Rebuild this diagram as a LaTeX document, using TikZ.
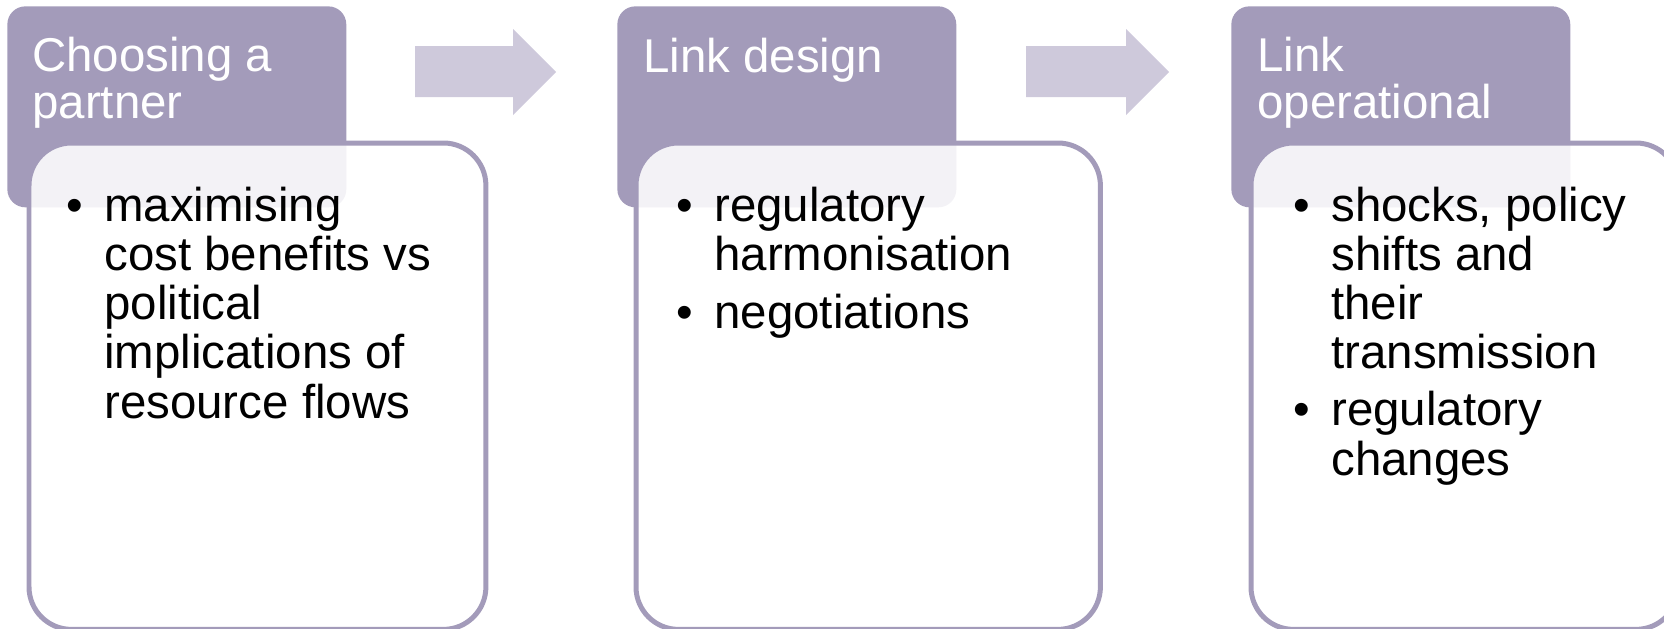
\documentclass[tikz,border=0pt]{standalone}
\usepackage{fontspec}
\setmainfont{Liberation Sans}
\usetikzlibrary{positioning}

\definecolor{lavender}{RGB}{163,155,186}
\definecolor{lavlight}{RGB}{206,201,219}

\newcommand{\bul}{\llap{\textbullet\hspace{0.43cm}}}

\begin{document}
\begin{tikzpicture}[x=0.02cm, y=-0.02cm,
    head/.style={fill=lavender, rounded corners=0.36cm, anchor=north west,
      inner sep=0pt, minimum width=6.78cm, minimum height=4.02cm},
    card/.style={draw=lavender, line width=0.1cm, fill=white, fill opacity=0.87,
      rounded corners=0.85cm, anchor=north west, inner sep=0pt, minimum height=9.73cm},
    htext/.style={anchor=base west, inner sep=0pt, align=left, text=white,
      font=\fontsize{27}{26.2}\selectfont},
    btext/.style={anchor=base west, inner sep=0pt, align=left,
      font=\fontsize{27}{27.9}\selectfont},
    blockarrow/.style={fill=lavlight}]
  \useasboundingbox (0,0) rectangle (1664,629);
  \clip (0,0) rectangle (1664,629);

  % Kopfkaesten
  \node[head] (hd1) at (7,6) {};
  \node[head] (hd2) at (617,6) {};
  \node[head] (hd3) at (1231,6) {};

  % Karten darueber
  \node[card, minimum width=9.14cm] (cd1) at (26.5,140.5) {};
  \node[card, minimum width=9.29cm] (cd2) at (633.5,140.5) {};
  \node[card, minimum width=8.55cm] (cd3) at (1248.5,140.5) {};

  % Titel (base = letzte Zeile)
  \node[htext] (ht1) at (32,118) {Choosing a\\partner};
  \node[htext] (ht2) at (643,72) {Link design};
  \node[htext] (ht3) at (1257,118) {Link\\operational};

  % Stichpunkte
  \node[btext] (bt1) at (104,418) {\bul maximising\\cost benefits vs\\political\\implications of\\resource flows};
  \node[btext] (bt2) at (714,328) {\bul regulatory\\harmonisation\\[5pt]\bul negotiations};
  \node[btext] (bt3) at (1331,475) {\bul shocks, policy\\shifts and\\their\\transmission\\[5pt]\bul regulatory\\changes};

  % Pfeile zwischen den Schritten
  \fill[blockarrow] (415,46) -- (513,46) -- (513,29) -- (556,72) -- (513,115) -- (513,97) -- (415,97) -- cycle;
  \fill[blockarrow] (1026,46) -- (1126,46) -- (1126,29) -- (1169,72) -- (1126,115) -- (1126,97) -- (1026,97) -- cycle;
\end{tikzpicture}
\end{document}
